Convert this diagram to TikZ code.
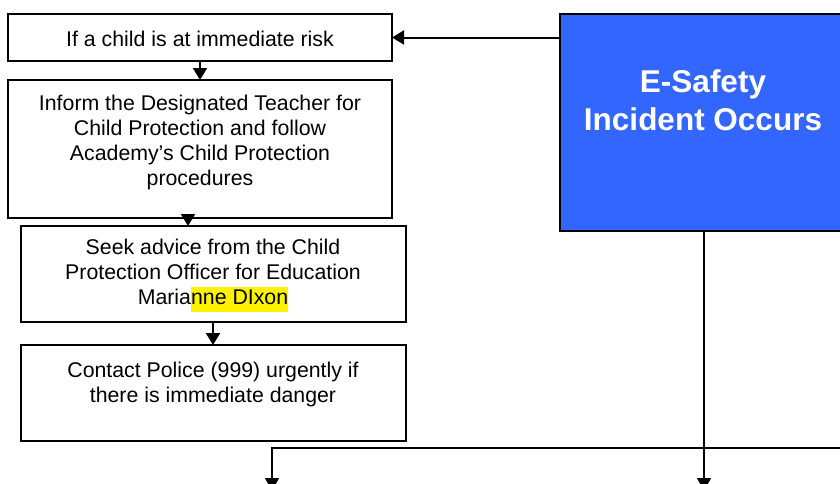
\documentclass[tikz,border=0pt]{standalone}
\usepackage{fontspec}
\setmainfont{Liberation Sans}
\usetikzlibrary{arrows.meta}
\definecolor{incblue}{HTML}{3366FF}
\tikzset{
  box/.style={draw=black, line width=2pt, inner sep=0pt, outer sep=0pt, anchor=north west},
  txt/.style={align=center, inner sep=0pt, font=\fontsize{21.3}{25}\selectfont},
  bigtxt/.style={align=center, inner sep=0pt, text=white, font=\fontsize{31.5}{38}\selectfont\bfseries},
  arr/.style={line width=2pt, -{Triangle[width=14pt,length=12pt]}},
  ln/.style={line width=2pt}
}
\begin{document}
\begin{tikzpicture}[x=1pt,y=-1pt]
\useasboundingbox (0,0) rectangle (840,483);
% boxes
\node[box, minimum width=384pt, minimum height=47pt] (n1) at (8,14) {};
\node[box, minimum width=384pt, minimum height=138pt] (n2) at (8,80) {};
\node[box, minimum width=385pt, minimum height=96pt] (n3) at (21,226) {};
\node[box, minimum width=385pt, minimum height=96pt] (n4) at (21,345) {};
\node[box, fill=incblue, minimum width=286pt, minimum height=217pt] (inc) at (560,14) {};
% texts
\node[txt] (t1) at (200,39) {If a child is at immediate risk};
\node[txt] (t2) at (200,142.5) {Inform the Designated Teacher for\\Child Protection and follow\\Academy’s Child Protection\\procedures};
\node[txt] (t3) at (213,276) {Seek advice from the Child\\Protection Officer for Education\\Maria{\setlength{\fboxsep}{0pt}\colorbox{yellow}{\strut nne DIxon}}};
\node[txt] (t4) at (213,384) {Contact Police (999) urgently if\\there is immediate danger};
\node[bigtxt] (t5) at (703,100) {E-Safety\\Incident Occurs};
% connector helpers
\coordinate (x1) at (200,0);
\coordinate (x2) at (188,0);
\coordinate (x3) at (213,0);
\coordinate (xl) at (272,0);
\coordinate (hr) at (850,448);
\coordinate (bl) at (272,490);
\coordinate (br) at (704,490);
% connectors
\draw[arr] (inc.west |- n1) -- (n1.east);
\draw[arr] (n1.south -| x1) -- (n2.north -| x1);
\draw[arr] (n2.south -| x2) -- (n3.north -| x2);
\draw[arr] (n3.south -| x3) -- (n4.north -| x3);
\draw[arr] (inc.south -| br) -- (br);
\draw[arr] (hr) -- (hr -| bl) -- (bl);
\end{tikzpicture}
\end{document}
